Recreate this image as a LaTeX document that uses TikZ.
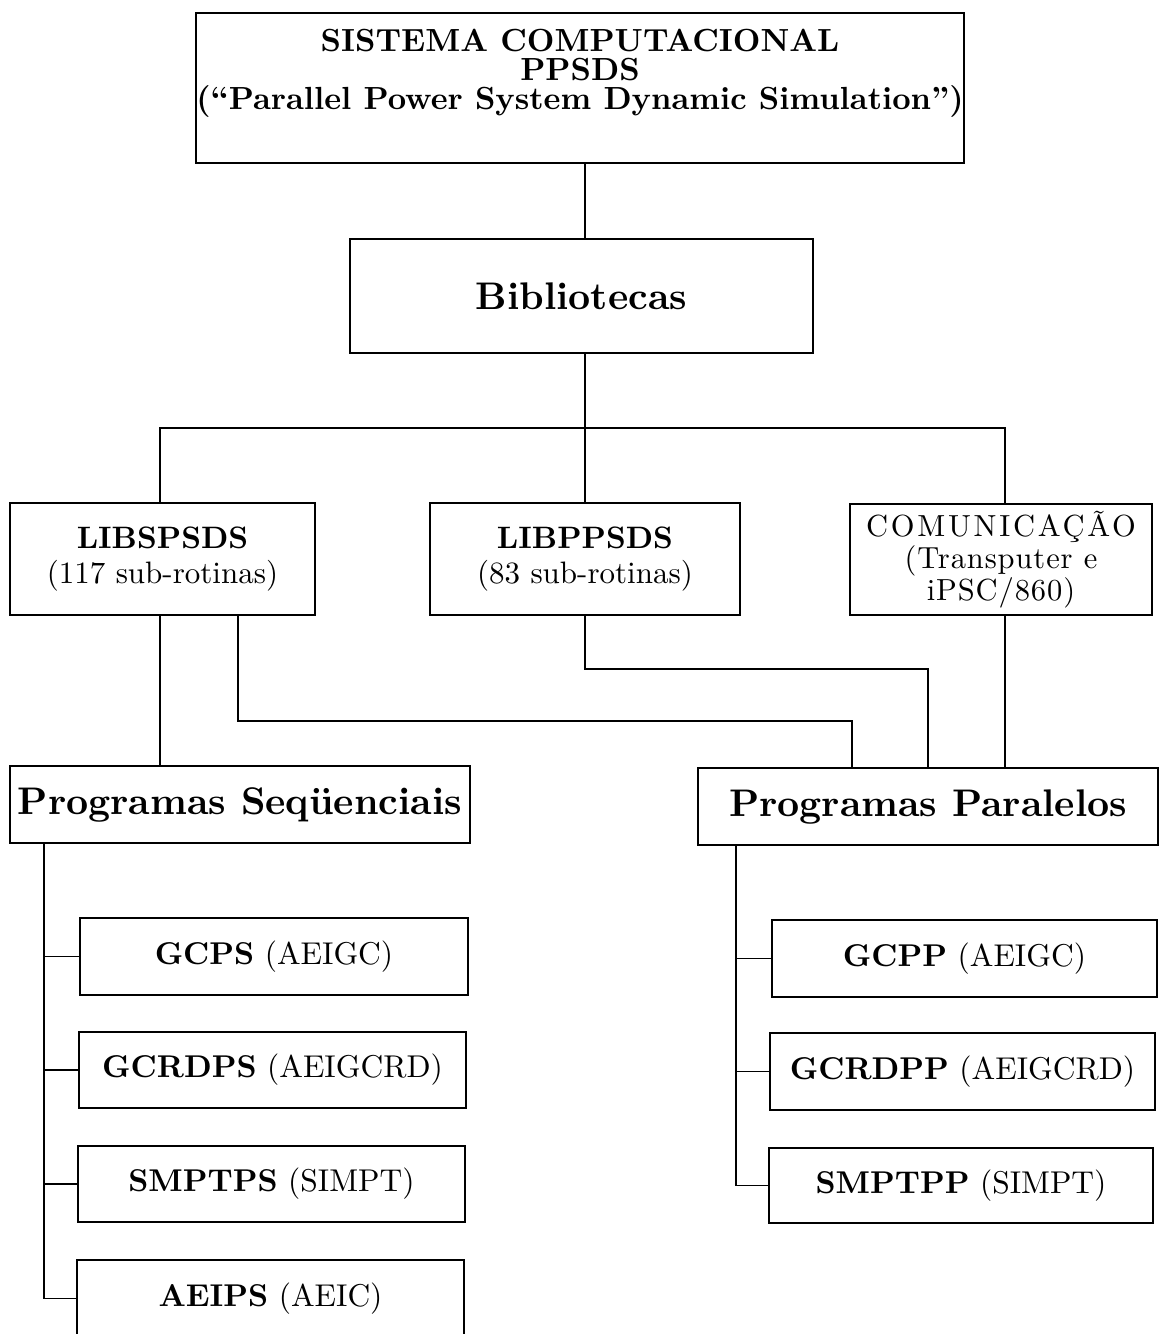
\documentclass[tikz,border=0pt]{standalone}
\usepackage{fontspec}
\setmainfont{lmroman10}[Extension=.otf,UprightFont=*-regular,BoldFont=*-bold,ItalicFont=*-italic,BoldItalicFont=*-bolditalic]
\begin{document}
\begin{tikzpicture}[x=1pt,y=-1pt,line width=1.7pt,
  box/.style={draw,line width=1.7pt,inner sep=0pt,align=center},
  ftop/.style={font=\fontsize{32}{29}\selectfont\bfseries},
  fbig/.style={font=\fontsize{38.5}{40}\selectfont\bfseries},
  fmid/.style={font=\fontsize{31}{35}\selectfont},
  fsmall/.style={font=\fontsize{31.5}{33}\selectfont}]
\useasboundingbox (0,0) rectangle (1162,1334);

% top
\node[box,minimum width=768pt,minimum height=150pt] (top) at (580,88) {};
\node[ftop,align=center] (toptxt) at (580,73) {SISTEMA COMPUTACIONAL\\PPSDS\\(“Parallel Power System Dynamic Simulation”)};

\node[box,fbig,minimum width=463pt,minimum height=114pt] (bib) at (581.5,296) {Bibliotecas};

\node[box,fmid,minimum width=305pt,minimum height=112pt] (libs) at (162.5,559) {\textbf{LIBSPSDS}\\(117 sub-rotinas)};
\node[box,fmid,minimum width=310pt,minimum height=112pt] (libp) at (585,559) {\textbf{LIBPPSDS}\\(83 sub-rotinas)};
\node[box,font=\fontsize{30.5}{32}\selectfont\addfontfeatures{LetterSpace=3},minimum width=302pt,minimum height=111pt] (com) at (1001,559.5) {{\addfontfeatures{LetterSpace=9}COMUNICAÇÃO}\\(Transputer e\\iPSC/860)};

\node[box,fbig,minimum width=460pt,minimum height=77pt] (seq) at (240,804.5) {Programas Seqüenciais};
\node[box,fbig,minimum width=460pt,minimum height=77pt] (par) at (928,806.5) {Programas Paralelos};

\node[box,fsmall,minimum width=388pt,minimum height=77pt] (gcps) at (274,956.5) {\textbf{GCPS} (AEIGC)};
\node[box,fsmall,minimum width=387pt,minimum height=76pt] (gcrdps) at (272.5,1070) {\textbf{GCRDPS} (AEIGCRD)};
\node[box,fsmall,minimum width=387pt,minimum height=76pt] (smptps) at (271.5,1184) {\textbf{SMPTPS} (SIMPT)};
\node[box,fsmall,minimum width=387pt,minimum height=77pt] (aeips) at (270.5,1298.5) {\textbf{AEIPS} (AEIC)};

\node[box,fsmall,minimum width=385pt,minimum height=77pt] (gcpp) at (964.5,958.5) {\textbf{GCPP} (AEIGC)};
\node[box,fsmall,minimum width=385pt,minimum height=77pt] (gcrdpp) at (962.5,1071.5) {\textbf{GCRDPP} (AEIGCRD)};
\node[box,fsmall,minimum width=384pt,minimum height=75pt] (smptpp) at (961,1185.5) {\textbf{SMPTPP} (SIMPT)};

% connectors
\coordinate (busc) at (585,428);
\draw (top.south -| busc) -- (bib.north -| busc);
\draw (bib.south -| busc) -- (busc);
\draw ([xshift=-2.5pt]libs.north) |- (busc) -| ([xshift=4pt]com.north);
\draw (busc) -- (libp.north);

\draw ([xshift=-2.5pt]libs.south) -- ([xshift=-2.5pt]libs.south |- seq.north);
\draw ([xshift=75.5pt]libs.south) -- ++(0,105) -| ([xshift=-76pt]par.north);
\draw (libp.south) -- ++(0,53) -| (par.north);
\draw ([xshift=4pt]com.south) -- ([xshift=4pt]com.south |- par.north);

% left tree
\coordinate (tl) at ([xshift=35pt]seq.south west);
\draw (tl) |- (aeips.west);
\foreach \n in {gcps,gcrdps,smptps} \draw (\n.west) -- (\n.west -| tl);

% right tree
\coordinate (tr) at ([xshift=39pt]par.south west);
\draw (tr) |- (smptpp.west);
\foreach \n in {gcpp,gcrdpp} \draw (\n.west) -- (\n.west -| tr);
\end{tikzpicture}
\end{document}
